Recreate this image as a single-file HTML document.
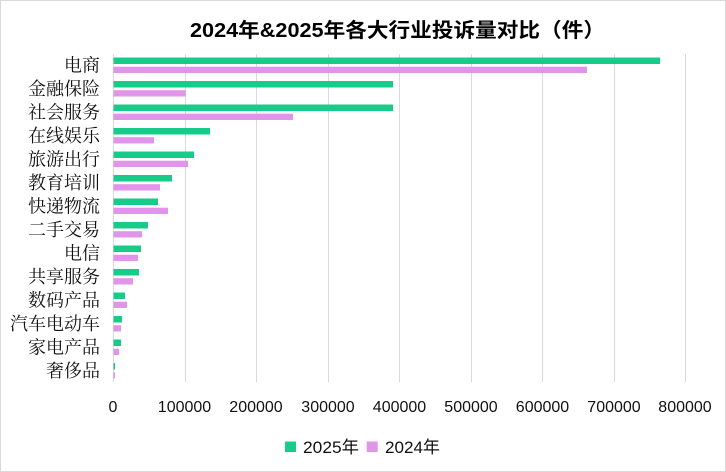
<!DOCTYPE html>
<html><head><meta charset="utf-8"><style>
html,body{margin:0;padding:0;background:#fff;}
svg{display:block;}
</style></head><body>
<svg width="726" height="472" viewBox="0 0 726 472" xmlns="http://www.w3.org/2000/svg">
<rect x="0.5" y="0.5" width="725" height="471" fill="#fff" stroke="#d9d9d9" stroke-width="1"/>
<text x="190" y="37" textLength="415" lengthAdjust="spacingAndGlyphs" font-family="'Liberation Sans','Noto Sans CJK SC',sans-serif" font-weight="bold" font-size="20" fill="#000">2024年&amp;2025年各大行业投诉量对比（件）</text>
<g stroke="#d9d9d9" stroke-width="1">
<line x1="113.5" y1="54" x2="113.5" y2="382"/>
<line x1="185.5" y1="54" x2="185.5" y2="382"/>
<line x1="256.5" y1="54" x2="256.5" y2="382"/>
<line x1="328.5" y1="54" x2="328.5" y2="382"/>
<line x1="399.5" y1="54" x2="399.5" y2="382"/>
<line x1="471.5" y1="54" x2="471.5" y2="382"/>
<line x1="542.5" y1="54" x2="542.5" y2="382"/>
<line x1="614.5" y1="54" x2="614.5" y2="382"/>
<line x1="685.5" y1="54" x2="685.5" y2="382"/>
</g>
<g fill="#16cc88">
<rect x="113.5" y="57.5" width="546.5" height="6.5"/>
<rect x="113.5" y="81" width="279.5" height="6.5"/>
<rect x="113.5" y="104.5" width="279.5" height="6.5"/>
<rect x="113.5" y="128" width="96.5" height="6.5"/>
<rect x="113.5" y="151.5" width="80.5" height="6.5"/>
<rect x="113.5" y="175" width="58.5" height="6.5"/>
<rect x="113.5" y="198.5" width="44.5" height="6.5"/>
<rect x="113.5" y="222" width="34.5" height="6.5"/>
<rect x="113.5" y="245.5" width="27.5" height="6.5"/>
<rect x="113.5" y="269" width="25.5" height="6.5"/>
<rect x="113.5" y="292.5" width="11.5" height="6.5"/>
<rect x="113.5" y="316" width="8.5" height="6.5"/>
<rect x="113.5" y="339.5" width="7.5" height="6.5"/>
<rect x="113.5" y="363" width="1.5" height="6.5"/>
</g>
<g fill="#e094ea">
<rect x="113.5" y="66.7" width="473.5" height="6.3"/>
<rect x="113.5" y="90.2" width="72.2" height="6.3"/>
<rect x="113.5" y="113.7" width="179.5" height="6.3"/>
<rect x="113.5" y="137.2" width="40.5" height="6.3"/>
<rect x="113.5" y="160.7" width="74.5" height="6.3"/>
<rect x="113.5" y="184.2" width="46.5" height="6.3"/>
<rect x="113.5" y="207.7" width="54.5" height="6.3"/>
<rect x="113.5" y="231.2" width="28.5" height="6.3"/>
<rect x="113.5" y="254.7" width="24.5" height="6.3"/>
<rect x="113.5" y="278.2" width="19.5" height="6.3"/>
<rect x="113.5" y="301.7" width="13.5" height="6.3"/>
<rect x="113.5" y="325.2" width="7.5" height="6.3"/>
<rect x="113.5" y="348.7" width="5.5" height="6.3"/>
<rect x="113.5" y="372.2" width="1.5" height="6.3"/>
</g>
<g font-family="'Liberation Serif','Noto Serif CJK SC',serif" font-size="18" fill="#111" text-anchor="end">
<text x="100" y="71.3">电商</text>
<text x="100" y="94.8">金融保险</text>
<text x="100" y="118.3">社会服务</text>
<text x="100" y="141.8">在线娱乐</text>
<text x="100" y="165.3">旅游出行</text>
<text x="100" y="188.8">教育培训</text>
<text x="100" y="212.3">快递物流</text>
<text x="100" y="235.8">二手交易</text>
<text x="100" y="259.3">电信</text>
<text x="100" y="282.8">共享服务</text>
<text x="100" y="306.3">数码产品</text>
<text x="100" y="329.8">汽车电动车</text>
<text x="100" y="353.3">家电产品</text>
<text x="100" y="376.8">奢侈品</text>
</g>
<g font-family="'Liberation Sans',sans-serif" font-size="16" fill="#111" text-anchor="middle">
<text x="113" y="412">0</text>
<text x="184.5" y="412">100000</text>
<text x="256" y="412">200000</text>
<text x="328" y="412">300000</text>
<text x="399.5" y="412">400000</text>
<text x="471" y="412">500000</text>
<text x="542.5" y="412">600000</text>
<text x="614" y="412">700000</text>
<text x="685" y="412">800000</text>
</g>
<rect x="285" y="441.5" width="11" height="10.5" fill="#16cc88"/>
<rect x="366.7" y="441.5" width="11" height="10.5" fill="#e094ea"/>
<g font-family="'Liberation Sans','Noto Sans CJK SC',sans-serif" font-size="17" fill="#111">
<text x="303" y="453" textLength="56" lengthAdjust="spacingAndGlyphs">2025年</text>
<text x="385" y="453" textLength="55" lengthAdjust="spacingAndGlyphs">2024年</text>
</g>
</svg>
</body></html>
